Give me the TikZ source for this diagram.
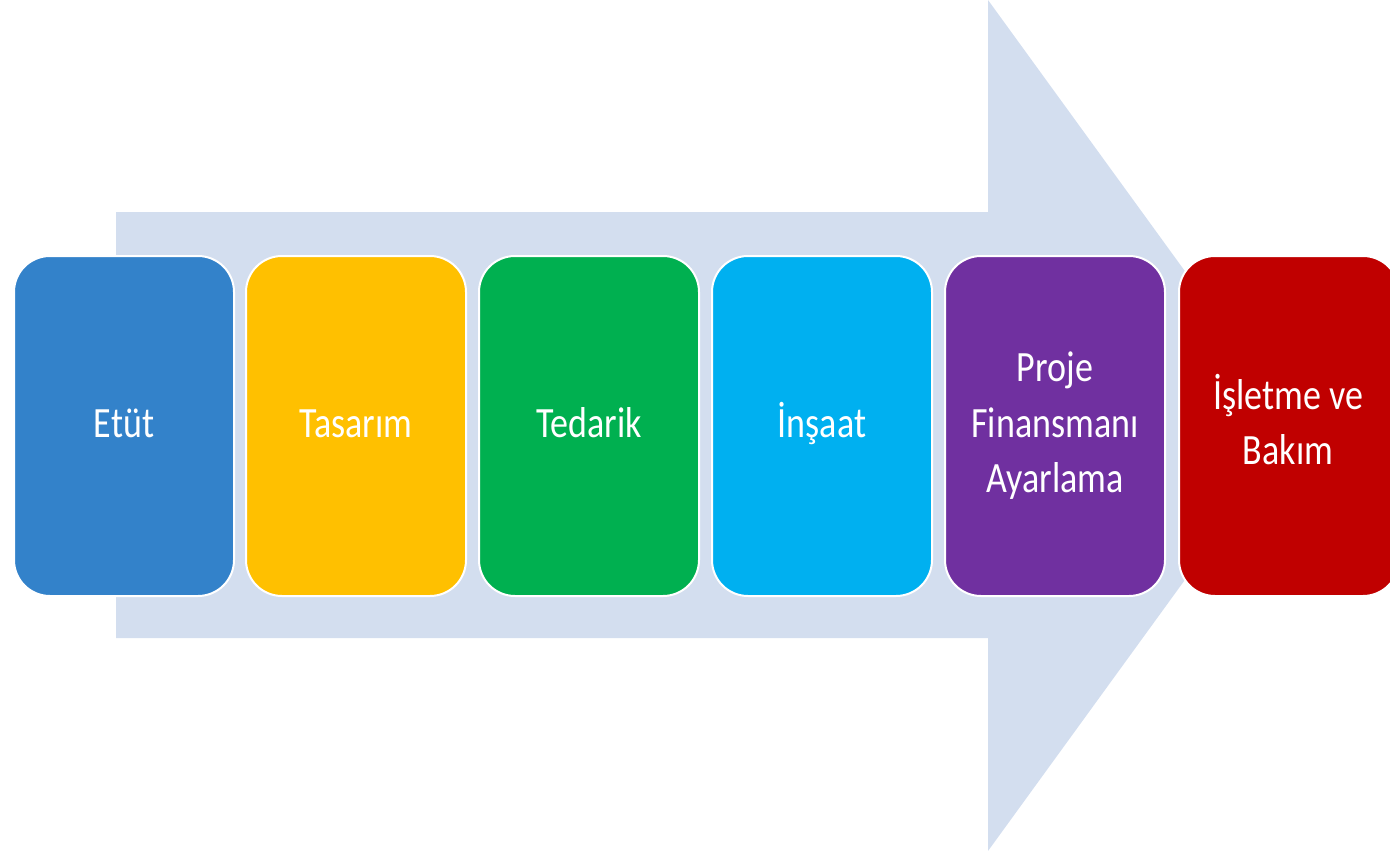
\documentclass[tikz,border=0pt]{standalone}
\usepackage{fontspec}
\setmainfont{Carlito}
\usepackage{graphicx}
\definecolor{arrowc}{HTML}{D3DEEF}
\definecolor{c1}{HTML}{3382CA}
\definecolor{c2}{HTML}{FFC000}
\definecolor{c3}{HTML}{00B050}
\definecolor{c4}{HTML}{00B0F0}
\definecolor{c5}{HTML}{7030A0}
\definecolor{c6}{HTML}{C00000}
\tikzset{
  stage/.style={draw=white, line width=2pt, rounded corners=36pt, minimum width=220pt, minimum height=340pt, anchor=north west, text=white, inner sep=0pt},
}
\newcommand{\stxt}[1]{\scalebox{1}[1.2]{\fontsize{36pt}{46pt}\selectfont\begin{tabular}{@{}c@{}}#1\end{tabular}}}
\begin{document}
\begin{tikzpicture}[x=1pt,y=-1pt]
\useasboundingbox (0,0) rectangle (1390,851);
\clip (0,0) rectangle (1390,851);
\fill[arrowc] (116,212) -- (988,212) -- (988,0) -- (1297,425.5) -- (988,851) -- (988,638) -- (116,638) -- cycle;
\node[stage, fill=c1] (s1) at (13,255) {\stxt{Etüt}};
\node[stage, fill=c2] (s2) at (245,255) {\stxt{Tasarım}};
\node[stage, fill=c3] (s3) at (478,255) {\stxt{Tedarik}};
\node[stage, fill=c4] (s4) at (711,255) {\stxt{İnşaat}};
\node[stage, fill=c5] (s5) at (944,255) {\stxt{Proje\\Finansmanı\\Ayarlama}};
\node[stage, fill=c6, minimum width=220pt] (s6) at (1178,255) {};
\node[text=white] (t6) at (1288,426) {\stxt{İşletme ve\\Bakım}};
\end{tikzpicture}
\end{document}
